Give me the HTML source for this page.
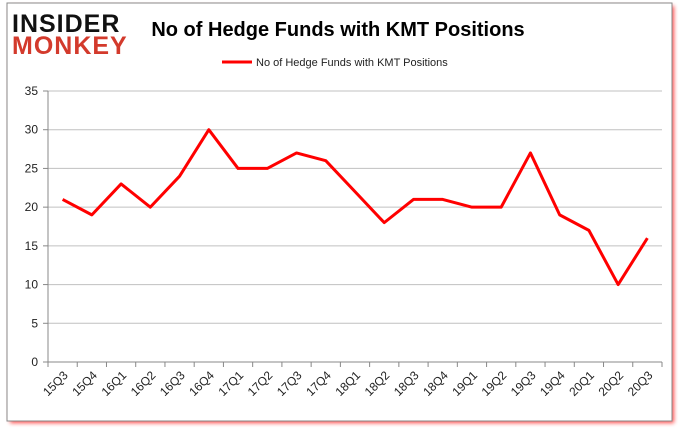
<!DOCTYPE html>
<html><head><meta charset="utf-8"><style>
body{margin:0;background:#fff;width:680px;height:433px;overflow:hidden;font-family:"Liberation Sans",sans-serif}
</style></head><body>
<svg width="680" height="433" style="position:absolute;left:0;top:0">
<defs><filter id="sh" x="-5%" y="-5%" width="115%" height="115%"><feGaussianBlur stdDeviation="2"/></filter></defs>
<rect x="10" y="6" width="664" height="417" fill="#f00" opacity="0.7" filter="url(#sh)"/>
<rect x="7" y="3" width="665" height="418" fill="#fff" stroke="#888" stroke-width="1"/>
<text x="12" y="32" font-size="25" font-weight="bold" fill="#111" font-family="'Liberation Sans',sans-serif" letter-spacing="1">INSIDER</text>
<text x="12" y="54" font-size="25" font-weight="bold" fill="#d33a2c" letter-spacing="1">MONKEY</text>
<text x="338" y="36" font-size="20" font-weight="bold" text-anchor="middle" fill="#000">No of Hedge Funds with KMT Positions</text>
<line x1="222" y1="62" x2="252" y2="62" stroke="#f00" stroke-width="3"/>
<text x="256" y="66" font-size="11" fill="#222">No of Hedge Funds with KMT Positions</text>
<g id="g"></g>
</svg>
<script>
const categories=["15Q3","15Q4","16Q1","16Q2","16Q3","16Q4","17Q1","17Q2","17Q3","17Q4","18Q1","18Q2","18Q3","18Q4","19Q1","19Q2","19Q3","19Q4","20Q1","20Q2","20Q3"];
const values=[21,19,23,20,24,30,25,25,27,26,22,18,21,21,20,20,27,19,17,10,16];
const yTicks=[0,5,10,15,20,25,30,35];
const NS="http://www.w3.org/2000/svg",g=document.getElementById('g');
const L=48,R=662,B=362,T=91,yMax=35;
const step=(R-L)/categories.length;
const x=i=>L+step*(i+0.5), y=v=>B-(B-T)*v/yMax;
function mk(t,a){const e=document.createElementNS(NS,t);for(const k in a)e.setAttribute(k,a[k]);g.appendChild(e);return e;}
yTicks.forEach(v=>{
 const l=mk('line',{x1:L,x2:R,y1:y(v),y2:y(v),stroke:v===0?'#888':'#c0c0c0','stroke-width':1});
 
 
 const tk=mk('line',{x1:L-5,x2:L,y1:y(v),y2:y(v),stroke:'#888'});
 
 
 const t=mk('text',{x:L-10,y:y(v)+4,'font-size':12,'text-anchor':'end',fill:'#222'});t.textContent=v;
 
 
});
const ax=mk('line',{x1:L,x2:L,y1:T,y2:B,stroke:'#888'});


for(let i=0;i<=categories.length;i++){
 const tk=mk('line',{x1:L+step*i,x2:L+step*i,y1:B,y2:B+5,stroke:'#888'});
 
 
}
categories.forEach((c,i)=>{
 const t=mk('text',{x:x(i)+6,y:B+14,'font-size':12,'text-anchor':'end',fill:'#222',transform:`rotate(-45 ${x(i)+6} ${B+14})`});t.textContent=c;
 
 
});
const p=mk('polyline',{points:values.map((v,i)=>x(i)+','+y(v)).join(' '),fill:'none',stroke:'#f00','stroke-width':3,'stroke-linejoin':'round'});


</script>
</body></html>
